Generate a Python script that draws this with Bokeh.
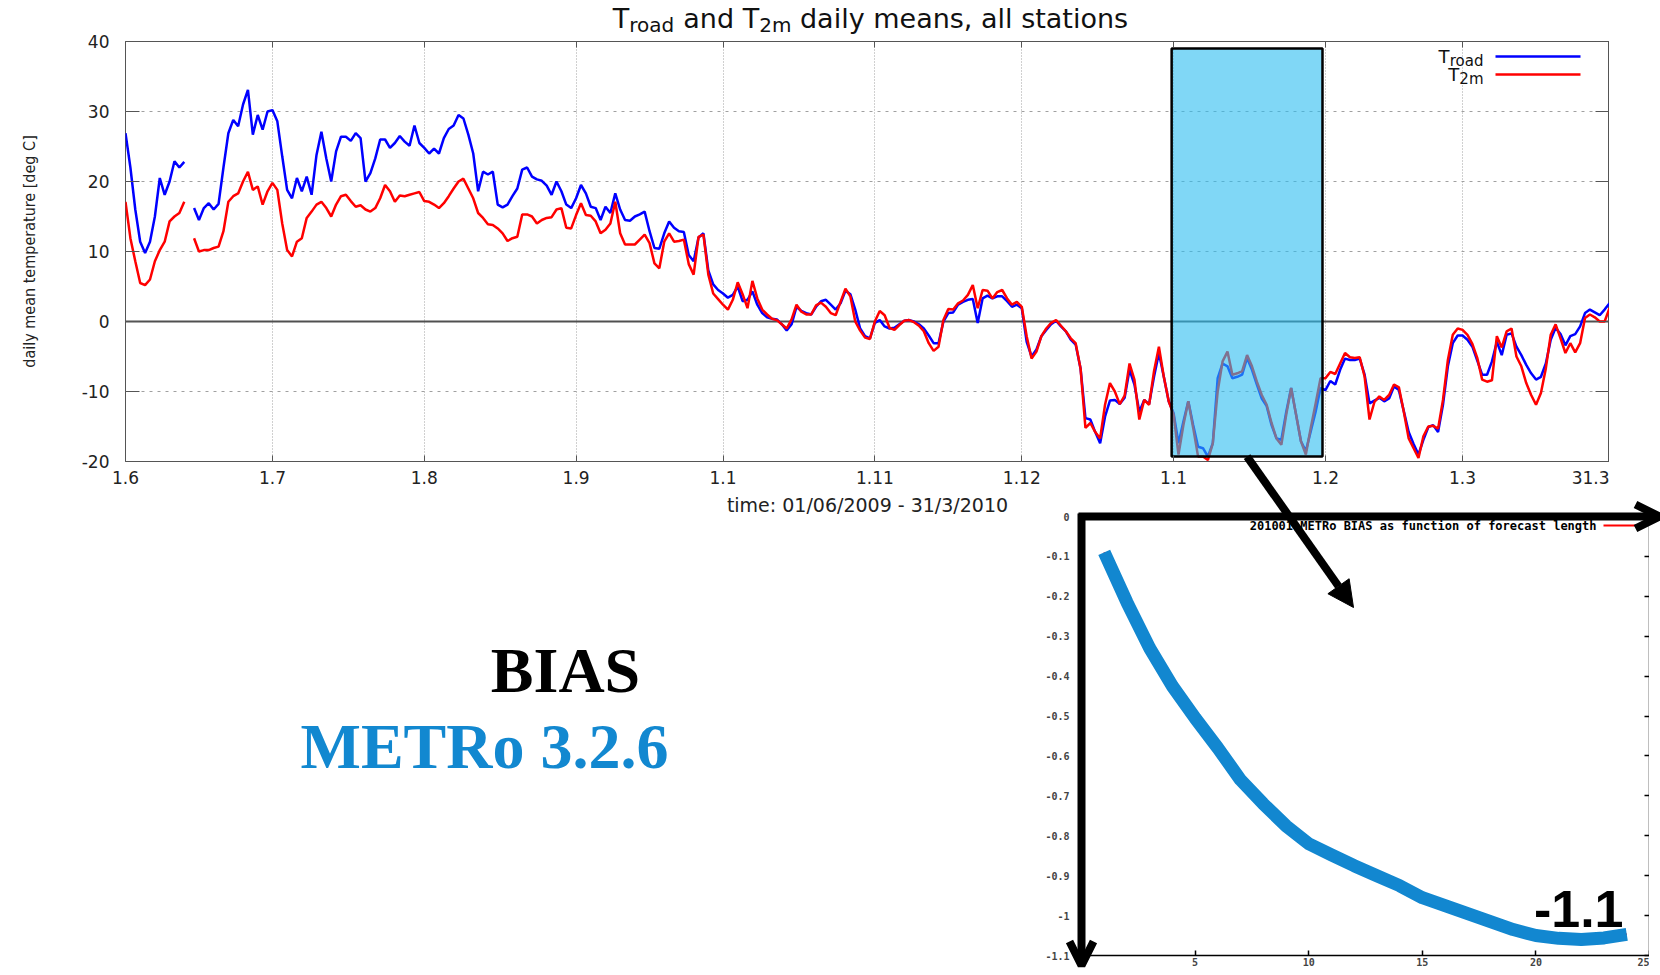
import numpy as np
from bokeh.plotting import figure
from bokeh.layouts import column
from bokeh.models import (Range1d, FixedTicker, LinearAxis, Label, Arrow, OpenHead,
                          NormalHead, ColumnDataSource)
from bokeh.embed import file_html
from bokeh.resources import INLINE

# ---------------- data ----------------
# day index 0 = 1 June 2009 ... 303 = 31 March 2010
t_road = [
    26.9, 22.0, 16.0, 11.4, 9.8, 11.4, 15.0, 20.5, 18.1, 20.0,
    22.9, 22.0, 22.8, None, 16.2, 14.5, 16.2, 16.9, 16.0, 16.8,
    22.0, 26.9, 28.8, 27.9, 31.0, 33.1, 26.7, 29.5, 27.4, 30.0,
    30.2, 28.6, 23.6, 18.8, 17.6, 20.5, 18.6, 20.7, 18.1, 23.8,
    27.1, 23.3, 20.0, 24.3, 26.4, 26.4, 25.8, 26.9, 26.2, 20.0,
    21.2, 23.3, 26.0, 26.0, 24.8, 25.5, 26.5, 25.7, 25.1, 28.0,
    25.5, 24.8, 24.0, 24.7, 24.0, 26.2, 27.5, 28.0, 29.5, 29.0,
    26.7, 24.0, 18.6, 21.4, 21.0, 21.4, 16.7, 16.3, 16.7, 17.9,
    19.0, 21.7, 22.0, 20.7, 20.3, 20.1, 19.4, 18.1, 20.0, 18.6,
    16.7, 16.2, 17.6, 19.5, 18.3, 16.4, 16.2, 14.5, 16.4, 15.5,
    18.3, 16.0, 14.5, 14.4, 15.0, 15.3, 15.7, 12.9, 10.5, 10.4,
    12.6, 14.3, 13.4, 12.9, 12.8, 9.5, 8.6, 12.0, 12.6, 7.3,
    5.3, 4.5, 4.0, 3.4, 3.8, 5.0, 2.9, 3.1, 4.3, 2.4,
    1.2, 0.6, 0.4, 0.3, -0.4, -1.3, -0.4, 2.1, 1.5, 1.2,
    1.0, 2.1, 2.9, 3.1, 2.4, 1.7, 2.6, 4.4, 3.9, 1.7,
    -1.0, -2.1, -2.4, -0.2, 0.2, -0.7, -1.0, -0.9, -0.4, 0.1,
    0.2, 0.0, -0.4, -1.0, -2.0, -3.1, -3.1, 0.0, 1.2, 1.3,
    2.4, 2.8, 3.1, 3.2, -0.2, 3.3, 3.7, 3.3, 3.6, 3.6,
    2.9, 2.1, 2.4, 1.9, -2.9, -5.0, -4.0, -2.1, -1.2, -0.4,
    0.1, -0.7, -1.4, -2.6, -3.3, -6.7, -13.8, -14.0, -15.8, -17.4,
    -13.6, -11.3, -11.2, -11.8, -10.9, -6.9, -9.0, -12.9, -11.2, -11.8,
    -7.9, -4.5, -7.9, -11.4, -13.1, -17.4, -14.3, -11.4, -14.8, -17.9,
    -18.1, -19.3, -17.4, -8.1, -6.0, -6.4, -8.1, -7.9, -7.6, -5.2,
    -6.9, -9.0, -11.0, -12.1, -14.8, -16.7, -16.9, -12.9, -9.5, -13.3,
    -17.1, -18.5, -15.7, -12.9, -9.5, -9.8, -8.5, -9.0, -6.9, -5.3,
    -5.5, -5.5, -5.3, -7.6, -11.7, -11.3, -10.9, -11.4, -11.0, -9.3,
    -9.8, -12.8, -15.8, -17.5, -19.0, -16.9, -15.1, -14.8, -15.8, -11.9,
    -6.4, -3.1, -2.0, -2.0, -2.6, -3.6, -5.6, -7.6, -7.6, -5.7,
    -2.9, -4.8, -1.9, -1.7, -3.6, -4.8, -6.2, -7.4, -8.3, -7.9,
    -6.0, -2.6, -0.9, -1.8, -3.4, -2.1, -1.8, -0.7, 1.2, 1.7,
    1.3, 0.9, 1.7, 2.6,
]
t_2m = [
    17.1, 11.9, 8.6, 5.5, 5.2, 6.0, 8.6, 10.2, 11.4, 14.3,
    15.0, 15.5, 17.1, None, 11.9, 10.0, 10.2, 10.2, 10.5, 10.7,
    12.9, 17.1, 17.9, 18.3, 20.0, 21.4, 18.8, 19.3, 16.7, 18.6,
    19.8, 18.8, 14.0, 10.2, 9.3, 11.4, 11.9, 14.8, 15.7, 16.7,
    17.1, 16.2, 15.0, 16.7, 17.9, 18.1, 17.2, 16.4, 16.6, 16.0,
    15.7, 16.2, 17.6, 19.5, 18.6, 17.1, 18.0, 17.9, 18.1, 18.3,
    18.5, 17.2, 17.1, 16.7, 16.2, 16.9, 17.9, 19.0, 20.0, 20.4,
    19.0, 17.6, 15.5, 14.8, 13.9, 13.8, 13.3, 12.6, 11.5, 11.9,
    12.1, 15.3, 15.3, 15.0, 14.0, 14.5, 14.8, 14.9, 16.0, 16.2,
    13.4, 13.3, 15.2, 16.9, 15.2, 15.1, 14.3, 12.6, 13.1, 14.0,
    17.1, 12.6, 11.0, 11.0, 11.0, 11.7, 12.4, 11.2, 8.3, 7.6,
    11.4, 12.6, 11.4, 11.5, 11.7, 8.2, 6.7, 12.1, 12.4, 6.7,
    4.0, 3.2, 2.4, 1.7, 3.1, 5.6, 3.9, 1.9, 5.8, 3.3,
    1.7, 1.0, 0.4, 0.2, -0.4, -1.0, 0.3, 2.4, 1.4, 1.0,
    1.0, 2.3, 2.7, 2.1, 1.2, 0.9, 2.8, 4.7, 3.6, 0.0,
    -1.3, -2.3, -2.5, 0.0, 1.5, 0.9, -0.9, -1.2, -0.5, 0.1,
    0.2, -0.1, -0.6, -1.4, -3.1, -4.2, -3.6, 0.2, 1.8, 1.7,
    2.6, 3.0, 3.8, 5.2, 1.9, 4.5, 4.4, 3.3, 4.2, 4.5,
    3.3, 2.4, 2.8, 2.1, -2.1, -5.3, -4.3, -2.1, -1.0, -0.2,
    0.2, -0.6, -1.4, -2.4, -3.1, -6.7, -15.2, -14.5, -15.8, -16.7,
    -11.9, -8.8, -10.0, -11.8, -10.6, -6.0, -8.3, -14.0, -11.2, -11.9,
    -7.1, -3.6, -7.9, -11.4, -13.3, -19.0, -14.8, -11.4, -15.2, -19.3,
    -19.3, -19.8, -17.4, -10.0, -5.7, -4.3, -7.6, -7.4, -7.1, -4.8,
    -6.4, -8.6, -10.5, -11.9, -14.5, -16.7, -17.6, -13.3, -9.5, -13.3,
    -17.1, -19.0, -15.2, -11.7, -8.1, -8.1, -7.2, -7.5, -6.0, -4.5,
    -5.1, -5.2, -5.1, -7.9, -14.0, -11.5, -10.7, -11.2, -10.5, -9.0,
    -9.4, -12.9, -16.7, -18.1, -19.5, -16.4, -15.0, -14.9, -15.3, -11.2,
    -5.5, -1.9, -1.0, -1.2, -1.9, -3.2, -5.2, -8.3, -8.6, -8.4,
    -2.1, -3.7, -1.4, -1.0, -5.0, -6.4, -8.8, -10.5, -11.9, -10.2,
    -6.7, -1.9, -0.4, -2.4, -4.5, -3.1, -4.4, -3.1, 0.5, 1.0,
    0.6, 0.0, 0.0, 1.9,
]
days = list(range(len(t_road)))

month_ticks = [0, 30, 61, 92, 122, 153, 183, 214, 245, 273, 303]
month_labels = ["1.6", "1.7", "1.8", "1.9", "1.1", "1.11", "1.12", "1.1", "1.2", "1.3", "31.3"]
temp_ticks = [-20, -10, 0, 10, 20, 30, 40]
temp_labels = ["-20", "-10", "0", "10", "20", "30", "40"]

# highlighted period (January 2010)
hl_left, hl_right = 213.6, 244.4
hl_bottom, hl_top = -19.3, 39.0

# inset: METRo bias vs forecast length
forecast_hours = list(range(1, 25))
bias = [-0.09, -0.215, -0.33, -0.425, -0.505, -0.58, -0.66, -0.72, -0.775, -0.82,
        -0.848, -0.875, -0.90, -0.925, -0.955, -0.975, -0.995, -1.015, -1.035, -1.05,
        -1.057, -1.06, -1.056, -1.047]
inset_y_ticks = [0, -0.1, -0.2, -0.3, -0.4, -0.5, -0.6, -0.7, -0.8, -0.9, -1, -1.1]
inset_y_labels = ["0", "-0.1", "-0.2", "-0.3", "-0.4", "-0.5", "-0.6", "-0.7", "-0.8",
                  "-0.9", "-1", "-1.1"]
inset_x_ticks = [0, 5, 10, 15, 20, 25]

# ---------------- layout geometry (page pixels) ----------------
W, H = 1660, 975
ML, MR, MT, MB = 125, 1609, 41, 461          # main frame
X0, X1, Y0, Y1 = 0, 303, -20, 40
IL, IR, IT, IB = 1081, 1649, 516, 955         # inset frame
IX0, IX1, IY0, IY1 = 0, 25, -1.1, 0
RB = 0                                        # common right border
BASE_SHIFT = 0.37                             # em correction for alphabetic baselines

ADV = {' ': .318, 'a': .613, 'd': .635, 'e': .615, 'i': .278, 'l': .278, 'm': .974,
       'n': .634, 'o': .612, 'r': .411, 's': .521, 't': .392, 'y': .592, 'T': .611,
       '2': .636, ',': .318}


def text_w(s, size):
    return sum(ADV.get(c, 0.62) for c in s) * size


SANS = "DejaVu Sans"
MONO = "DejaVu Sans Mono"

# ---------------- main chart ----------------
p = figure(width=MR + RB, height=H, x_range=Range1d(X0, X1), y_range=Range1d(Y0, Y1),
           output_backend="svg", toolbar_location=None,
           min_border_left=ML, min_border_right=RB, min_border_top=MT,
           min_border_bottom=H - MB, background_fill_color="white",
           border_fill_color="white")
p.outline_line_color = "#555555"
p.outline_line_width = 1

xa = p.xaxis[0]
xa.ticker = FixedTicker(ticks=month_ticks)
xa.major_label_overrides = {t: l for t, l in zip(month_ticks, month_labels)}
xa.major_tick_in = 6
xa.major_tick_out = 0
xa.major_tick_line_color = "#555555"
xa.minor_tick_line_color = None
xa.axis_line_color = None
xa.major_label_text_font = SANS
xa.major_label_text_font_size = "17px"
xa.major_label_text_color = "#222222"
xa.major_label_standoff = 9
xa.axis_label = "time: 01/06/2009 - 31/3/2010"
xa.axis_label_text_font = SANS
xa.axis_label_text_font_size = "19px"
xa.axis_label_text_font_style = "normal"
xa.axis_label_text_color = "#222222"
xa.axis_label_standoff = 7

ya = p.yaxis[0]
ya.ticker = FixedTicker(ticks=temp_ticks)
ya.major_label_overrides = {t: l for t, l in zip(temp_ticks, temp_labels)}
ya.major_tick_in = 14
ya.major_tick_out = 0
ya.major_tick_line_color = "#555555"
ya.minor_tick_line_color = None
ya.axis_line_color = None
ya.major_label_text_font = SANS
ya.major_label_text_font_size = "17px"
ya.major_label_text_color = "#222222"
ya.major_label_standoff = 16
ya.axis_label = "daily mean temperature [deg C]"
ya.axis_label_text_font = "'DejaVu Sans Condensed', 'Liberation Sans Narrow', 'DejaVu Sans'"
ya.axis_label_text_font_size = "16px"
ya.axis_label_text_font_style = "normal"
ya.axis_label_text_color = "#222222"
ya.axis_label_standoff = 40

ra = LinearAxis(ticker=FixedTicker(ticks=temp_ticks), major_tick_in=14, major_tick_out=0,
                major_tick_line_color="#555555", minor_tick_line_color=None,
                axis_line_color=None, major_label_standoff=0,
                major_label_overrides={t: "" for t in temp_ticks})
p.add_layout(ra, "right")
ta = LinearAxis(ticker=FixedTicker(ticks=month_ticks), major_tick_in=6, major_tick_out=0,
                major_tick_line_color="#555555", minor_tick_line_color=None,
                axis_line_color=None, major_label_standoff=0,
                major_label_overrides={t: "" for t in month_ticks})
p.add_layout(ta, "above")

p.xgrid.grid_line_color = "#a0a0a0"
p.xgrid.grid_line_dash = "1 2"
p.ygrid.grid_line_color = "#a0a0a0"
p.ygrid.grid_line_dash = "3 5"

src = ColumnDataSource(dict(day=days,
                            road=np.array(t_road, dtype=float),
                            t2m=np.array(t_2m, dtype=float)))
p.hspan(y=[0], line_color="#505050", line_width=2)
p.line("day", "road", source=src, line_color="#0000ff", line_width=2.5)
p.line("day", "t2m", source=src, line_color="#ff0000", line_width=2.5)
p.quad(left=[hl_left], right=[hl_right], bottom=[hl_bottom], top=[hl_top],
       fill_color="#2bbcf0", fill_alpha=0.6, line_color="black", line_width=2.5)

# ---------------- inset chart ----------------
q = figure(width=IR + RB - (IL - ML), height=H, x_range=Range1d(IX0, IX1),
           y_range=Range1d(IY0, IY1), output_backend="svg", toolbar_location=None,
           min_border_left=ML, min_border_right=RB, min_border_top=IT,
           min_border_bottom=H - IB, background_fill_color="white",
           border_fill_alpha=0)
q.margin = (-H, 0, 0, IL - ML)
q.outline_line_color = None
q.grid.visible = False

qx = q.xaxis[0]
qx.ticker = FixedTicker(ticks=inset_x_ticks)
qx.major_tick_in = 5
qx.major_tick_out = 0
qx.minor_tick_line_color = None
qx.axis_line_color = "black"
qx.axis_line_width = 1.5
qx.major_tick_line_width = 1.5
qx.major_label_text_font = MONO
qx.major_label_text_font_style = "bold"
qx.major_label_text_font_size = "10px"
qx.major_label_standoff = 2

qy = q.yaxis[0]
qy.ticker = FixedTicker(ticks=inset_y_ticks)
qy.major_label_overrides = {t: l for t, l in zip(inset_y_ticks, inset_y_labels)}
qy.major_tick_line_color = None
qy.minor_tick_line_color = None
qy.axis_line_color = None
qy.major_label_text_font = MONO
qy.major_label_text_font_style = "bold"
qy.major_label_text_font_size = "10px"
qy.major_label_standoff = 6

qr = LinearAxis(ticker=FixedTicker(ticks=inset_y_ticks), major_tick_in=5, major_tick_out=0,
                major_tick_line_width=1.5, minor_tick_line_color=None,
                axis_line_color="black", axis_line_width=1.5, major_label_standoff=0,
                major_label_overrides={t: "" for t in inset_y_ticks})
q.add_layout(qr, "right")

q.line(forecast_hours, bias, line_color="#ff0000", line_width=2)
q.line(forecast_hours, bias, line_color="#1287d0", line_width=13, line_join="round")

# ---------------- overlay for slide annotations (page pixel space) ----------------
o = figure(width=W, height=H, x_range=Range1d(ML, W - RB), y_range=Range1d(H, 0),
           output_backend="svg", toolbar_location=None,
           x_axis_location=None, y_axis_location=None,
           min_border_left=ML, min_border_right=RB, min_border_top=0, min_border_bottom=0,
           background_fill_alpha=0, border_fill_alpha=0)
o.margin = (-H, 0, 0, 0)
o.outline_line_color = None
o.grid.visible = False


def lab(x, y, text, font=SANS, size=16, style="normal", align="left",
        baseline="alphabetic", color="#111111"):
    if baseline == "alphabetic":
        y = y - BASE_SHIFT * size
    o.add_layout(Label(x=x, y=y, text=text, text_font=font, text_font_size=f"{size}px",
                       text_font_style=style, text_align=align, text_baseline=baseline,
                       text_color=color))


# title with subscripts (spaces handled as advances, since SVG collapses them)
title_parts = [("T", 27, 0), ("road", 20, 4), (" and T", 27, 0), ("2m", 20, 4),
               (" daily means, all stations", 27, 0)]
total_w = sum(text_w(s, sz) for s, sz, _ in title_parts)
cx = 870 - total_w / 2
for s, sz, drop in title_parts:
    stripped = s.lstrip(" ")
    cx += text_w(s[:len(s) - len(stripped)], sz)
    lab(cx, 28 + drop, stripped, size=sz)
    cx += text_w(stripped, sz)

# legend with subscripts
leg_right = 1483
for main_t, sub_t, base_y, line_y, col in [("T", "road", 63, 56, "#0000ff"),
                                           ("T", "2m", 81, 74, "#ff0000")]:
    lab(leg_right, base_y + 3, sub_t, size=15, align="right")
    lab(leg_right - text_w(sub_t, 15), base_y, main_t, size=18, align="right")
    o.add_layout(Arrow(end=None, start=None, x_start=1495, y_start=line_y, x_end=1580,
                       y_end=line_y, line_color=col, line_width=2.5))

# big slide texts
lab(565, 694, "BIAS", font="Liberation Serif", size=64, style="bold", align="center",
    color="black")
lab(300, 770, "METRo 3.2.6", font="Liberation Serif", size=64, style="bold",
    color="#1288d0")

# inset key
lab(1596, 525, "201001 METRo BIAS as function of forecast length", font=MONO, size=12,
    style="bold", align="right", baseline="middle", color="black")
o.add_layout(Arrow(end=None, start=None, x_start=1603, y_start=525, x_end=1636, y_end=525,
                   line_color="#ff0000", line_width=2))

# bold axis arrows of the inset
o.add_layout(Arrow(end=OpenHead(size=24, line_width=8, line_color="black"),
                   x_start=IL - 3, y_start=IT, x_end=1659, y_end=IT,
                   line_color="black", line_width=8))
o.add_layout(Arrow(end=OpenHead(size=24, line_width=8, line_color="black"),
                   x_start=IL, y_start=IT - 3, x_end=IL, y_end=IB + 10,
                   line_color="black", line_width=8))

# minimum bias value
lab(1623, 928, f"{min(bias):.1f}", font="Liberation Sans", size=52, style="bold",
    align="right", color="black")

# arrow from highlighted period to inset
sx = ML + ((hl_left + hl_right) / 2 - X0) * (MR - ML) / (X1 - X0)
sy = MT + (Y1 - hl_bottom) * (MB - MT) / (Y1 - Y0)
o.add_layout(Arrow(end=NormalHead(size=26, fill_color="black", line_color="black",
                                  line_width=1),
                   x_start=sx, y_start=sy, x_end=1353, y_end=607,
                   line_color="black", line_width=8))

layout = column(p, q, o)
open("out.html", "w").write(file_html(layout, INLINE))
